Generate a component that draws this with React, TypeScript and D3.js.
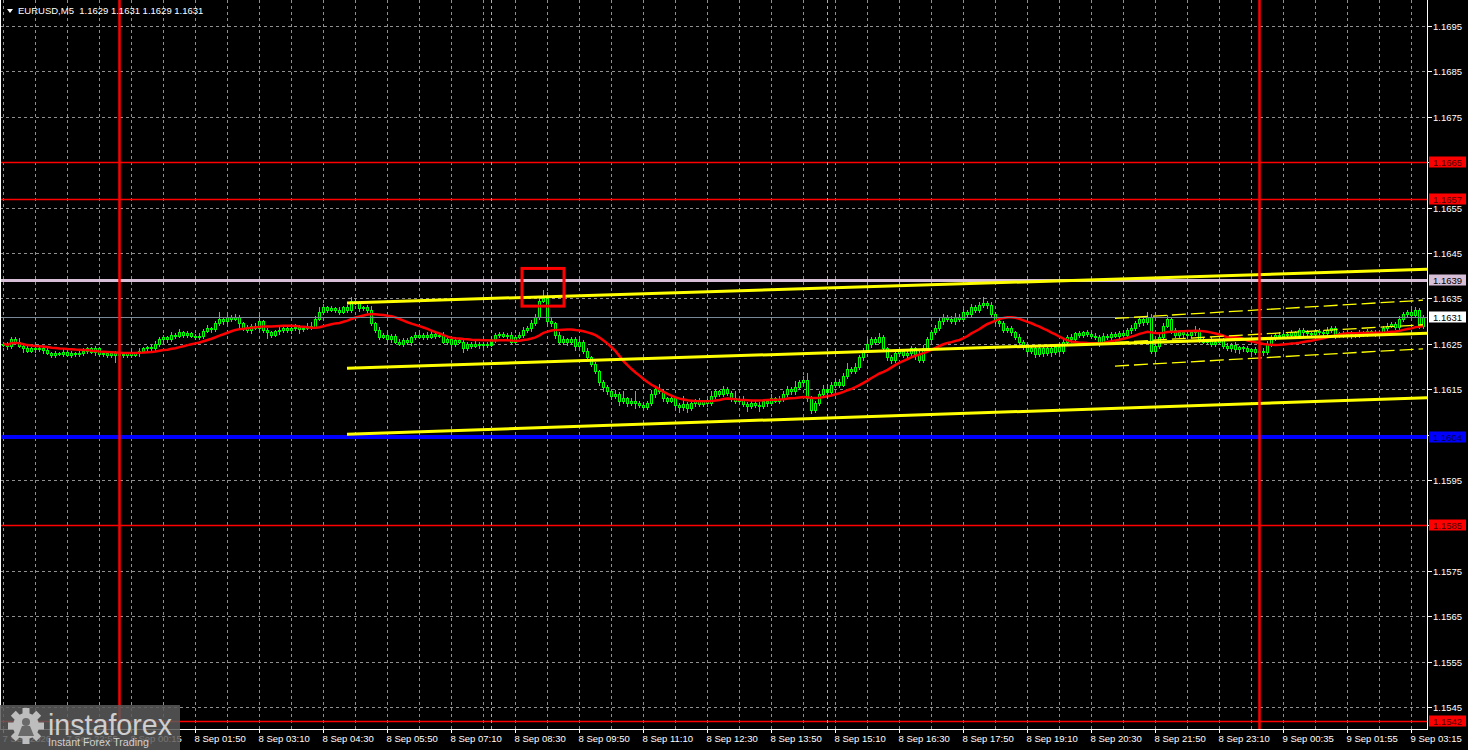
import React from "react";
import * as d3 from "d3";

// ---------- DATA ----------
// prices are stored in pips above BASE (1.1600)
const BASE = 1.16;
const firstOpenPips = 24.8;
const closePips = [
  25, 24.5, 26, 25.5, 24.5, 24, 23.5, 24, 23.8, 24,
  23.6, 23, 22.6, 23, 22.8, 23.2, 22.6, 23, 22.7, 23,
  23.5, 24, 23.2, 24, 22.8, 23, 22.5, 23, 22.6, 22.8,
  22.5, 23, 22.6, 23, 23.5, 24, 24.2, 24, 25, 26,
  26.5, 26, 27, 26.8, 27.5, 27, 27.3, 26.8, 26.5, 26.8,
  27.8, 28.5, 28.2, 29.5, 30.5, 30, 31, 30.5, 31, 29.5,
  28.5, 28, 29, 28.5, 30, 28, 27.5, 27, 27.8, 28,
  28.5, 28, 28.5, 28.7, 28.3, 28.5, 29, 28.8, 30.5, 32,
  33, 32.5, 32.8, 32.5, 32, 33, 32.5, 34.5, 34, 32.8,
  33, 32.5, 29.5, 28, 26.5, 27, 26, 26.8, 25.5, 25,
  25.8, 25.3, 26.5, 27, 26.5, 27, 26.5, 27.2, 26.8, 27,
  25.5, 26, 25, 25.8, 25.5, 24, 25, 24.5, 25, 24.7,
  25, 24.8, 26, 27, 27.2, 26.8, 27, 25.5, 26.5, 27,
  28, 28.5, 29.5, 31, 34.5, 35, 30, 29.5, 27, 25.5,
  26, 25.3, 26, 24.5, 25.5, 23.5, 22, 20.5, 19, 16.5,
  15.5, 14.5, 13.5, 14, 12.5, 13, 12, 12.5, 12, 11.5,
  11, 12, 14, 15, 14.5, 13, 12.5, 13, 11.5, 11,
  11.8, 10.8, 12, 12.5, 11.8, 12.3, 12, 13.5, 14.5, 14,
  15, 14.2, 13, 12.5, 12.8, 11.8, 11.3, 12, 11.5, 11.2,
  12.3, 12, 13, 12.5, 12.8, 14, 15, 14.5, 15.5, 16.5,
  17, 13, 10.5, 12, 14, 15, 14.3, 16, 16.5, 16,
  18, 19.5, 19, 20, 22, 23.5, 25, 26, 25.5, 26.5,
  24, 22, 21.5, 23, 23.5, 22.5, 23, 24, 22.8, 21.5,
  24, 26, 27.5, 28.5, 30, 31, 30.5, 30, 31, 30.5,
  32, 31.5, 33, 32.5, 33.5, 34, 33.5, 31.5, 30, 29.5,
  28, 28.5, 27.5, 26.5, 25.5, 24.5, 23.5, 24, 22.8, 24,
  23, 24, 23.2, 24.2, 23.5, 25.5, 26.5, 26, 27.3, 27,
  27.5, 27.2, 26.8, 26.5, 25.5, 26.8, 26.5, 27.2, 26.8, 27.3,
  27, 28, 28.5, 29.5, 30.5, 29.8, 31, 23.5, 24.5, 26.5,
  29, 30.5, 28, 27, 27.5, 27.2, 27, 27.5, 28, 26,
  25.5, 25.8, 25, 25.5, 26, 24.5, 24, 24.8, 23.8, 24.2,
  24, 23.5, 23.8, 23.3, 23.5, 23.2, 25, 26.5, 27, 26.8,
  27.2, 27, 27.5, 27, 28, 27.5, 27.3, 27.2, 27.8, 27.5,
  27.3, 28, 28.5, 27, 27.3, 27, 27.2, 26.8, 27, 27.5,
  27.2, 27.8, 27.5, 27.3, 27.5, 28.5, 29, 29.3, 28.8, 30.5,
  31.5, 32, 31.3, 32.5, 29, 31,
];
const wickUpPips = [
  0.5, 0.3, 0.6, 0.4, 0.8, 0.3, 0.5, 0.4, 0.2, 0.6,
  0.3, 0.5, 0.2, 0.4, 0.3, 0.7, 0.2, 0.4, 0.3, 0.5,
  0.6, 0.3, 0.4, 0.5, 0.2, 0.3, 0.5, 0.2, 0.4, 0.3,
  0.4, 0.2, 0.5, 0.3, 0.6, 0.4, 0.3, 0.5, 0.7, 0.4,
  0.5, 0.3, 0.6, 0.4, 0.8, 0.3, 0.5, 0.4, 0.3, 0.6,
  0.4, 0.7, 0.3, 0.5, 1.5, 0.4, 0.6, 0.3, 0.5, 0.4,
  0.3, 0.6, 0.4, 0.5, 2.0, 0.3, 0.5, 0.4, 0.3, 0.6,
  0.4, 0.5, 0.3, 0.6, 0.4, 0.3, 0.5, 0.7, 0.6, 1.0,
  0.8, 0.4, 0.6, 0.3, 0.5, 0.4, 0.6, 0.7, 0.5, 0.4,
  0.3, 0.5, 0.8, 0.4, 0.6, 0.3, 0.5, 0.4, 0.3, 0.6,
  0.4, 0.5, 0.3, 0.6, 0.4, 0.3, 0.5, 0.6, 0.4, 0.3,
  0.5, 0.4, 0.3, 0.6, 0.4, 0.5, 0.3, 0.4, 0.6, 0.3,
  0.5, 0.4, 0.6, 0.3, 0.5, 0.4, 0.3, 0.6, 0.4, 0.5,
  0.6, 0.4, 0.8, 0.5, 0.8, 1.8, 1.5, 0.6, 0.4, 0.5,
  0.7, 0.3, 0.5, 0.4, 0.6, 0.3, 0.5, 0.4, 0.6, 0.3,
  0.5, 0.4, 0.6, 0.8, 0.4, 1.5, 0.3, 0.5, 2.0, 0.4,
  0.6, 0.5, 0.8, 0.4, 1.2, 0.5, 0.3, 0.6, 0.4, 0.5,
  1.8, 0.4, 0.5, 0.3, 0.6, 0.4, 0.5, 1.2, 0.6, 0.4,
  0.8, 0.5, 0.4, 1.5, 0.3, 0.6, 0.4, 0.5, 0.3, 0.6,
  0.5, 0.4, 1.0, 0.3, 0.6, 0.5, 0.7, 0.4, 1.2, 0.6,
  0.8, 1.5, 0.6, 0.4, 0.5, 1.0, 0.4, 0.6, 0.5, 0.8,
  0.6, 1.2, 0.5, 0.8, 0.6, 0.5, 1.5, 0.6, 0.4, 0.8,
  0.5, 0.4, 0.6, 0.5, 0.8, 0.4, 0.6, 0.5, 0.4, 0.6,
  0.8, 0.6, 0.5, 0.7, 0.6, 0.5, 0.4, 0.6, 0.8, 0.5,
  0.6, 0.5, 0.7, 0.5, 0.6, 1.2, 0.5, 0.6, 0.4, 0.5,
  0.6, 0.4, 0.5, 0.3, 0.6, 0.4, 0.5, 0.3, 0.6, 0.4,
  0.5, 0.4, 0.3, 0.6, 0.4, 0.5, 0.4, 0.6, 0.3, 0.5,
  0.4, 0.6, 0.3, 0.5, 0.4, 0.6, 0.3, 0.5, 0.4, 0.6,
  0.5, 0.4, 0.6, 0.5, 0.4, 0.6, 1.0, 0.5, 0.4, 0.6,
  0.5, 0.8, 0.4, 0.5, 0.3, 0.6, 0.4, 0.5, 1.0, 0.4,
  0.5, 0.3, 0.6, 0.4, 0.5, 0.3, 0.6, 0.4, 0.5, 0.3,
  0.4, 0.5, 0.3, 0.6, 0.4, 0.5, 0.6, 0.5, 0.4, 0.6,
  0.5, 0.4, 0.6, 0.3, 0.5, 0.4, 0.6, 0.3, 0.5, 0.4,
  0.6, 0.8, 0.5, 0.4, 0.3, 0.5, 0.4, 0.6, 0.3, 0.5,
  0.4, 0.5, 0.3, 0.6, 0.4, 0.5, 0.6, 0.4, 0.5, 0.6,
  0.5, 0.4, 0.6, 0.5, 0.4, 0.3,
];
const wickDownPips = [
  0.3, 0.6, 0.4, 0.5, 0.3, 0.7, 0.4, 0.3, 0.5, 0.4,
  0.6, 0.3, 0.5, 0.4, 0.2, 0.5, 0.3, 0.6, 0.4, 0.3,
  0.4, 0.5, 0.3, 0.6, 0.4, 0.5, 0.3, 0.4, 1.5, 0.5,
  0.3, 0.5, 0.4, 0.3, 0.6, 0.4, 0.5, 0.3, 0.4, 0.5,
  0.3, 0.6, 0.4, 0.5, 0.3, 0.4, 0.6, 0.3, 0.5, 0.4,
  0.6, 0.3, 0.5, 0.4, 0.3, 0.6, 0.4, 0.5, 0.3, 1.0,
  0.5, 0.4, 0.6, 0.3, 0.5, 0.4, 1.2, 0.5, 0.3, 0.6,
  0.5, 0.3, 0.6, 0.4, 1.0, 0.5, 0.3, 0.6, 0.4, 0.3,
  0.5, 0.4, 0.3, 0.6, 0.5, 0.3, 0.6, 0.4, 0.3, 0.5,
  0.4, 0.6, 0.3, 0.5, 0.4, 0.3, 0.6, 0.5, 0.4, 0.3,
  0.5, 0.3, 0.6, 0.4, 0.3, 0.5, 0.4, 0.3, 0.6, 0.4,
  0.3, 0.5, 0.6, 0.4, 0.3, 0.8, 0.4, 0.5, 0.3, 0.6,
  0.4, 0.5, 0.3, 0.6, 0.4, 0.3, 0.5, 0.4, 0.6, 0.3,
  0.5, 0.4, 0.6, 0.3, 0.5, 0.4, 0.6, 0.5, 0.8, 0.4,
  0.5, 0.6, 0.3, 0.8, 0.4, 0.5, 0.6, 0.4, 0.5, 0.6,
  0.8, 0.5, 0.6, 0.4, 1.0, 0.5, 0.6, 0.4, 1.2, 0.5,
  0.6, 0.4, 0.5, 0.8, 0.4, 0.6, 0.5, 0.4, 0.8, 1.0,
  0.5, 0.8, 0.4, 0.6, 0.5, 0.4, 0.6, 0.5, 0.4, 0.6,
  0.5, 0.4, 0.6, 0.5, 0.4, 0.6, 1.2, 0.5, 0.4, 1.0,
  0.4, 0.6, 0.5, 0.4, 0.6, 0.5, 0.4, 0.6, 0.5, 0.4,
  0.5, 0.6, 0.8, 0.5, 0.4, 0.6, 0.5, 0.4, 0.6, 0.5,
  0.4, 0.6, 0.5, 0.4, 0.6, 0.5, 0.4, 0.6, 0.5, 0.4,
  0.6, 0.5, 0.8, 0.4, 0.6, 0.5, 0.4, 0.6, 1.2, 0.5,
  0.4, 0.5, 0.6, 0.4, 0.5, 0.6, 0.4, 0.5, 0.6, 0.4,
  0.5, 0.4, 0.6, 0.5, 0.4, 0.5, 0.6, 0.4, 0.5, 0.6,
  0.4, 0.5, 0.6, 0.4, 0.5, 0.6, 0.8, 0.5, 0.6, 0.4,
  0.6, 0.5, 0.8, 0.4, 0.6, 0.5, 0.4, 0.6, 0.5, 0.4,
  0.5, 0.4, 0.6, 0.5, 1.0, 0.4, 0.5, 0.6, 0.4, 0.5,
  0.4, 0.5, 0.6, 0.4, 0.5, 0.6, 0.4, 0.5, 0.6, 0.4,
  0.5, 0.4, 0.6, 0.5, 0.4, 0.6, 0.5, 0.4, 0.6, 0.5,
  0.4, 0.6, 0.5, 0.4, 0.6, 0.5, 0.4, 0.6, 0.5, 0.8,
  0.5, 0.4, 1.2, 0.5, 0.4, 0.6, 0.5, 0.4, 0.6, 0.5,
  0.4, 0.6, 0.5, 0.4, 0.6, 0.5, 0.4, 0.6, 0.5, 0.4,
  0.6, 0.5, 0.4, 0.8, 0.5, 0.4, 0.6, 0.5, 0.4, 0.6,
  0.5, 0.4, 0.6, 0.5, 0.4, 0.6, 0.5, 0.4, 0.6, 0.5,
  0.4, 0.6, 0.5, 0.4, 0.6, 0.5,
];
const MA_PERIOD = 20;

const priceTicks = [
  1.1545, 1.1555, 1.1565, 1.1575, 1.1585, 1.1595, 1.1605, 1.1615,
  1.1625, 1.1635, 1.1645, 1.1655, 1.1665, 1.1675, 1.1685, 1.1695,
];
const timeLabelBars = [
  0, 16, 32, 48, 64, 80, 96, 112, 128, 144, 160, 176, 192, 208, 224, 240,
  256, 272, 288, 304, 320, 336, 352,
];
const timeLabels = [
  "7 Sep 2026", "7 Sep 22:55", "8 Sep 00:15", "8 Sep 01:50", "8 Sep 03:10",
  "8 Sep 04:30", "8 Sep 05:50", "8 Sep 07:10", "8 Sep 08:30", "8 Sep 09:50",
  "8 Sep 11:10", "8 Sep 12:30", "8 Sep 13:50", "8 Sep 15:10", "8 Sep 16:30",
  "8 Sep 17:50", "8 Sep 19:10", "8 Sep 20:30", "8 Sep 21:50", "8 Sep 23:10",
  "9 Sep 00:35", "9 Sep 01:55", "9 Sep 03:15",
];

const levelPrices = [1.1665, 1.1657, 1.1639, 1.1631, 1.16044, 1.1585, 1.1542];
const levelLabels = ["1.1665", "1.1657", "1.1639", "1.1631", "1.1604", "1.1585", "1.1542"];
const levelKinds = ["red", "red", "pink", "bid", "blue", "red", "red"];

const redVLineBars = [29, 314];
const greenVLineBars = [122, 206];
const boxBars = [129.75, 140.25];
const boxPrices = [1.16416, 1.16333];

const channelBars = [86, 356];
const channelUpper = [1.1634, 1.16414];
const channelMiddle = [1.16196, 1.16273];
const channelLower = [1.16051, 1.16131];

const thinBars = [278, 355];
const thinUpper = [1.16306, 1.16346];
const thinMiddle = [1.16253, 1.16292];
const thinLower = [1.16201, 1.16239];

const headerText = "EURUSD,M5  1.1629 1.1631 1.1629 1.1631";

// ---------- LAYOUT ----------
const W = 1468;
const H = 750;
const PR = 1427; // plot right
const PB = 729; // plot bottom
const FONT = "'Liberation Sans', Arial, sans-serif";

const xS = d3.scaleLinear().domain([0, 355]).range([3, 1423]);
const yS = d3.scaleLinear().domain([1.1545, 1.1695]).range([707, 26]);
const px = (i: number) => xS(i) + 0.5;
const py = (p: number) => Math.round(yS(p)) + 0.5;
const toP = (pips: number) => BASE + pips / 10000;

type Bar = { i: number; o: number; c: number; h: number; l: number };

const bars: Bar[] = closePips.map((c, i) => {
  const o = i === 0 ? firstOpenPips : closePips[i - 1];
  const hi = Math.max(o, c) + wickUpPips[i];
  const lo = Math.min(o, c) - wickDownPips[i];
  return { i, o: toP(o), c: toP(c), h: toP(hi), l: toP(lo) };
});

const ma = closePips.map((_, i) => {
  const from = Math.max(0, i - MA_PERIOD + 1);
  const win = closePips.slice(from, i + 1);
  return { i, v: toP(d3.mean(win) as number) };
});

const maLine = d3
  .line<{ i: number; v: number }>()
  .x((d) => px(d.i))
  .y((d) => yS(d.v))
  .curve(d3.curveLinear);

function seg(barsPair: number[], prices: number[]) {
  return {
    x1: xS(barsPair[0]),
    x2: xS(barsPair[1]),
    y1: yS(prices[0]),
    y2: yS(prices[1]),
  };
}

const kindStyle: Record<string, { stroke: string; width: number; bg: string; fg: string }> = {
  red: { stroke: "#ff0000", width: 1.5, bg: "#ff0000", fg: "#4a0000" },
  pink: { stroke: "#d8bfd8", width: 3, bg: "#d8bfd8", fg: "#000000" },
  bid: { stroke: "#778899", width: 1, bg: "#ffffff", fg: "#000000" },
  blue: { stroke: "#0000ff", width: 4, bg: "#0000ff", fg: "#00003a" },
};

function Gear({ cx, cy }: { cx: number; cy: number }) {
  const teeth = d3.range(8).map((k) => (k * 360) / 8);
  return (
    <g fill="#bdbdbd">
      {teeth.map((a) => (
        <rect
          key={a}
          x={cx - 3.5}
          y={cy - 18}
          width={7}
          height={8}
          transform={`rotate(${a} ${cx} ${cy})`}
        />
      ))}
      <circle cx={cx} cy={cy} r={13} />
      <circle cx={cx} cy={cy - 4} r={4} fill="#6a6a6a" />
      <path
        d={`M${cx - 8},${cy + 10} L${cx - 4},${cy} L${cx + 4},${cy} L${cx + 8},${cy + 10} Z`}
        fill="#6a6a6a"
      />
    </g>
  );
}

export default function App() {
  const vGrid = d3.range(0, 356, 8);
  return (
    <svg
      width={W}
      height={H}
      style={{ position: "fixed", left: 0, top: 0, display: "block", background: "#000" }}
      fontFamily={FONT}
    >
      <rect x={0} y={0} width={W} height={H} fill="#000000" />

      {/* grid */}
      <g stroke="#8f8f8f" strokeWidth={1} strokeDasharray="3 3">
        {vGrid.map((b) => (
          <line key={"v" + b} x1={px(b)} x2={px(b)} y1={0} y2={PB} />
        ))}
        {priceTicks.map((p) => (
          <line key={"h" + p} x1={0} x2={PR} y1={py(p)} y2={py(p)} />
        ))}
      </g>

      {/* candles */}
      <g stroke="#00ff00" strokeWidth={1}>
        {bars.map((b) => {
          const x = px(b.i);
          const top = Math.round(yS(Math.max(b.o, b.c)));
          const bot = Math.round(yS(Math.min(b.o, b.c)));
          const hy = Math.round(yS(b.h));
          const ly = Math.round(yS(b.l));
          return (
            <g key={b.i}>
              <line x1={x} x2={x} y1={hy} y2={ly + 1} />
              {bot - top >= 1 ? (
                <rect x={x - 1} y={top + 0.5} width={2} height={bot - top} fill="#000000" />
              ) : (
                <line x1={x - 1.5} x2={x + 1.5} y1={top + 0.5} y2={top + 0.5} />
              )}
            </g>
          );
        })}
      </g>

      {/* moving average */}
      <path d={maLine(ma) || ""} fill="none" stroke="#ff0000" strokeWidth={2.5} />

      {/* horizontal levels */}
      {levelPrices.map((p, k) => {
        const s = kindStyle[levelKinds[k]];
        const y = s.width % 2 === 0 ? Math.round(yS(p)) : py(p);
        return (
          <line key={"l" + k} x1={0} x2={PR} y1={y} y2={y} stroke={s.stroke} strokeWidth={s.width} />
        );
      })}

      {/* channel lines */}
      {[channelUpper, channelMiddle, channelLower].map((pr, k) => {
        const s = seg(channelBars, pr);
        return <line key={"c" + k} {...s} stroke="#ffff00" strokeWidth={3} />;
      })}
      {[thinUpper, thinMiddle, thinLower].map((pr, k) => {
        const s = seg(thinBars, pr);
        return (
          <line key={"t" + k} {...s} stroke="#ffff00" strokeWidth={1.3} strokeDasharray="14 5" />
        );
      })}

      {/* vertical lines */}
      {greenVLineBars.map((b) => (
        <line
          key={"g" + b}
          x1={px(b)}
          x2={px(b)}
          y1={0}
          y2={PB}
          stroke="#9acd32"
          strokeWidth={1}
          strokeDasharray="3 3"
        />
      ))}
      {redVLineBars.map((b) => (
        <line key={"r" + b} x1={px(b)} x2={px(b)} y1={0} y2={PB} stroke="#ff0000" strokeWidth={2.5} />
      ))}

      {/* red box */}
      <rect
        x={xS(boxBars[0])}
        y={yS(boxPrices[0])}
        width={xS(boxBars[1]) - xS(boxBars[0])}
        height={yS(boxPrices[1]) - yS(boxPrices[0])}
        fill="none"
        stroke="#ff0000"
        strokeWidth={3}
      />

      {/* axis area */}
      <rect x={PR + 1} y={0} width={W - PR - 1} height={H} fill="#000000" />
      <rect x={0} y={PB + 1} width={W} height={H - PB - 1} fill="#000000" />
      <line x1={PR + 0.5} x2={PR + 0.5} y1={0} y2={PB + 1} stroke="#ffffff" strokeWidth={1} />
      <line x1={0} x2={PR + 1} y1={PB + 0.5} y2={PB + 0.5} stroke="#ffffff" strokeWidth={1} />
      <line x1={0.5} x2={0.5} y1={0} y2={PB} stroke="#ffffff" strokeWidth={1} />

      {/* price axis labels */}
      {priceTicks.map((p) => (
        <g key={"pt" + p}>
          <line x1={PR + 1} x2={PR + 5} y1={py(p)} y2={py(p)} stroke="#ffffff" />
          <text x={1433} y={py(p) + 3.5} fill="#ffffff" fontSize={9.5}>
            {p.toFixed(4)}
          </text>
        </g>
      ))}
      {levelPrices.map((p, k) => {
        const s = kindStyle[levelKinds[k]];
        const y = yS(p);
        return (
          <g key={"lb" + k}>
            <rect x={1429} y={Math.round(y) - 5.5} width={37} height={11} fill={s.bg} />
            <text x={1433} y={Math.round(y) + 3.5} fill={s.fg} fontSize={9.5}>
              {levelLabels[k]}
            </text>
          </g>
        );
      })}

      {/* time axis labels */}
      {timeLabelBars.map((b, k) => (
        <g key={"tl" + b}>
          <line x1={px(b)} x2={px(b)} y1={PB + 1} y2={PB + 4} stroke="#ffffff" />
          <text x={px(b) - 1} y={742} fill="#ffffff" fontSize={9.5}>
            {timeLabels[k]}
          </text>
        </g>
      ))}

      {/* header */}
      <polygon points="7,9 13,9 10,13" fill="#ffffff" />
      <text x={18} y={14} fill="#ffffff" fontSize={9.5} style={{ whiteSpace: "pre" }}>
        {headerText}
      </text>

      {/* logo */}
      <g>
        <rect x={0} y={705} width={180} height={45} fill="#5a5a5a" fillOpacity={0.85} />
        <Gear cx={26} cy={726} />
        <text x={48} y={735} fill="#cfcfcf" fontSize={30} textLength={124} lengthAdjust="spacingAndGlyphs">
          instaforex
        </text>
        <text x={48} y={746} fill="#d0d0d0" fontSize={10.5} textLength={101} lengthAdjust="spacingAndGlyphs">
          Instant Forex Trading
        </text>
      </g>
    </svg>
  );
}
